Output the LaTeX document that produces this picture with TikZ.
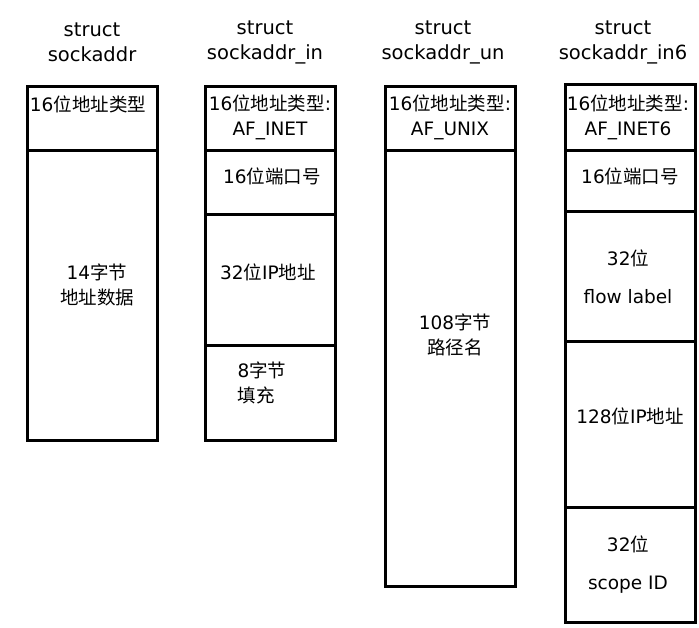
\documentclass[tikz,border=0pt]{standalone}
\usepackage{fontspec}
\setmainfont{DejaVu Sans}
\newfontfamily\cjk{Noto Sans CJK SC}
\begin{document}
\begin{tikzpicture}[x=1pt, y=-1pt,
  field/.style={rectangle, draw, line width=3pt, minimum width=130pt, inner sep=0pt},
  fieldtext/.style={font=\fontsize{18.5}{25}\selectfont, align=center, inner sep=0pt},
  heading/.style={font=\fontsize{19.5}{25}\selectfont, align=center, inner sep=0pt}
]
  \useasboundingbox (0,0) rectangle (699,627);

  % struct sockaddr
  \node[heading] (sa-title) at (92,42) {struct\\sockaddr};
  \node[field, minimum height=64pt] (sa-family) at (92,118) {};
  \node[field, minimum height=290pt] (sa-data) at (92,295) {};
  \node[fieldtext] (sa-family-text) at (88,104) {16{\cjk 位地址类型}};
  \node[fieldtext] (sa-data-text) at (97,285) {14{\cjk 字节}\\{\cjk 地址数据}};

  % struct sockaddr_in
  \node[heading] (in-title) at (265,42) {struct\\sockaddr\_in};
  \node[field, minimum height=64pt] (in-family) at (270,118) {};
  \node[field, minimum height=64pt] (in-port) at (270,182) {};
  \node[field, minimum height=131pt] (in-addr) at (270,279.5) {};
  \node[field, minimum height=95pt] (in-zero) at (270,392.5) {};
  \node[fieldtext] (in-family-text) at (270,117) {16{\cjk 位地址类型}:\\AF\_INET};
  \node[fieldtext] (in-port-text) at (272,176) {16{\cjk 位端口号}};
  \node[fieldtext] (in-addr-text) at (268,272) {32{\cjk 位}IP{\cjk 地址}};
  \node[fieldtext, align=left] (in-zero-text) at (262,383) {8{\cjk 字节}\\{\cjk 填充}};

  % struct sockaddr_un
  \node[heading] (un-title) at (443,42) {struct\\sockaddr\_un};
  \node[field, minimum height=64pt] (un-family) at (450,118) {};
  \node[field, minimum height=436pt] (un-path) at (450,368) {};
  \node[fieldtext] (un-family-text) at (450,117) {16{\cjk 位地址类型}:\\AF\_UNIX};
  \node[fieldtext] (un-path-text) at (455,335) {108{\cjk 字节}\\{\cjk 路径名}};

  % struct sockaddr_in6
  \node[heading] (in6-title) at (623,42) {struct\\sockaddr\_in6};
  \node[field, minimum height=66pt] (in6-family) at (630,117) {};
  \node[field, minimum height=61pt] (in6-port) at (630,180.5) {};
  \node[field, minimum height=130pt] (in6-flow) at (630,276) {};
  \node[field, minimum height=166pt] (in6-addr) at (630,424) {};
  \node[field, minimum height=115pt] (in6-scope) at (630,564.5) {};
  \node[fieldtext] (in6-family-text) at (628,117) {16{\cjk 位地址类型}:\\AF\_INET6};
  \node[fieldtext] (in6-port-text) at (630,176) {16{\cjk 位端口号}};
  \node[fieldtext] (in6-flow-text) at (628,277) {32{\cjk 位}\\[13pt]flow label};
  \node[fieldtext] (in6-addr-text) at (630,416) {128{\cjk 位}IP{\cjk 地址}};
  \node[fieldtext] (in6-scope-text) at (628,565) {32{\cjk 位}\\[13pt]scope ID};
\end{tikzpicture}
\end{document}
